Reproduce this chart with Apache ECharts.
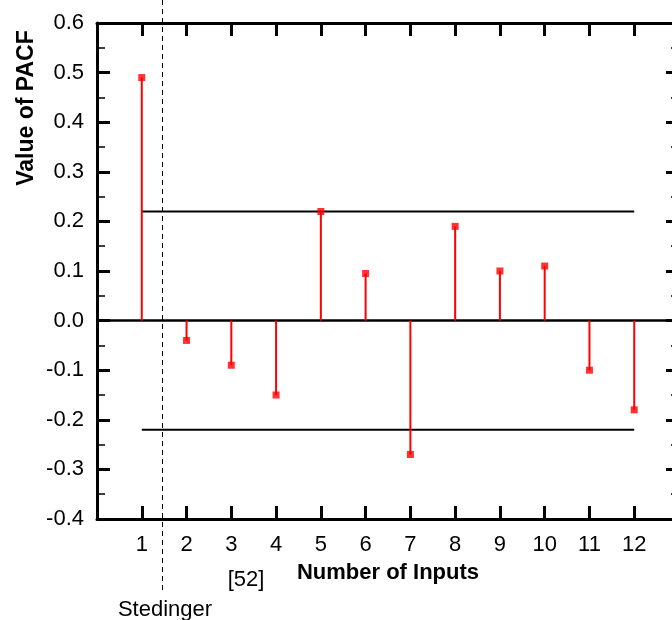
<!DOCTYPE html>
<html>
<head>
<meta charset="utf-8">
<script src="https://cdn.jsdelivr.net/npm/echarts@6/dist/echarts.min.js"></script>
<style>html,body{margin:0;padding:0;background:#fff}#c{width:672px;height:620px}</style>
</head>
<body>
<div id="c"></div>
<script>
const inputs = [1, 2, 3, 4, 5, 6, 7, 8, 9, 10, 11, 12];
const pacf = [0.49, -0.04, -0.09, -0.15, 0.22, 0.095, -0.27, 0.19, 0.10, 0.11, -0.10, -0.18];
const upperBound = [[1, 0.22], [12, 0.22]];
const lowerBound = [[1, -0.22], [12, -0.22]];
const zeroLine = [[0, 0], [13, 0]];
const yTicks = { min: -0.4, max: 0.6, step: 0.1 };
const xTicks = { min: 0, max: 13, step: 1 };

const FONT = 'Liberation Sans, Arial, sans-serif';
const pts = inputs.map((x, i) => [x, pacf[i]]);

const chart = echarts.init(document.getElementById('c'), null, { renderer: 'canvas' });

const axisLine = { show: true, onZero: false, lineStyle: { color: '#000', width: 3 } };
const majorTick = { show: true, inside: true, length: 13, lineStyle: { color: '#000', width: 3 } };
const minorTick = { show: true, splitNumber: 2, length: 8, lineStyle: { color: '#000', width: 1.5 } };

chart.setOption({
  animation: false,
  backgroundColor: '#fff',
  grid: { left: 97, top: 23, width: 582, height: 496, containLabel: false, outerBoundsMode: 'none' },
  xAxis: [
    {
      type: 'value', position: 'bottom', min: xTicks.min, max: xTicks.max, interval: xTicks.step,
      axisLine: axisLine, axisTick: majorTick, splitLine: { show: false },
      axisLabel: {
        color: '#000', fontFamily: FONT, fontSize: 22, margin: 15,
        formatter: v => (v >= 1 && v <= 12) ? String(v) : ''
      }
    },
    {
      type: 'value', position: 'top', min: xTicks.min, max: xTicks.max, interval: xTicks.step,
      axisLine: axisLine, axisTick: majorTick, splitLine: { show: false },
      axisLabel: { show: false }
    }
  ],
  yAxis: [
    {
      type: 'value', position: 'left', min: yTicks.min, max: yTicks.max, interval: yTicks.step,
      axisLine: axisLine, axisTick: majorTick, minorTick: minorTick, splitLine: { show: false },
      axisLabel: { color: '#000', fontFamily: FONT, fontSize: 22, margin: 13, formatter: v => v.toFixed(1) }
    },
    {
      type: 'value', position: 'right', min: yTicks.min, max: yTicks.max, interval: yTicks.step,
      axisLine: axisLine, axisTick: majorTick, minorTick: minorTick, splitLine: { show: false },
      axisLabel: { show: false }
    }
  ],
  series: [
    {
      type: 'line', data: zeroLine, symbol: 'none', silent: true,
      lineStyle: { color: '#000', width: 2.5 }, z: 1
    },
    {
      type: 'line', data: upperBound, symbol: 'none', silent: true,
      lineStyle: { color: '#000', width: 2 }, z: 1
    },
    {
      type: 'line', data: lowerBound, symbol: 'none', silent: true,
      lineStyle: { color: '#000', width: 2 }, z: 1
    },
    {
      type: 'custom', data: pts, z: 2,
      renderItem: function (params, api) {
        const p0 = api.coord([api.value(0), 0]);
        const p1 = api.coord([api.value(0), api.value(1)]);
        return { type: 'line', shape: { x1: p0[0], y1: p0[1], x2: p1[0], y2: p1[1] },
                 style: { stroke: '#f00', lineWidth: 2 } };
      }
    },
    {
      type: 'scatter', data: pts, symbol: 'rect', symbolSize: 7, z: 3,
      itemStyle: { color: '#f00' }
    }
  ],
  graphic: [
    { type: 'line', shape: { x1: 162.5, y1: 0, x2: 162.5, y2: 593 },
      style: { stroke: '#000', lineWidth: 1, lineDash: [5, 4] }, z: 10 },
    { type: 'text', x: 27, y: 108, rotation: Math.PI / 2, z: 10,
      style: { text: 'Value of PACF', font: 'bold 23px ' + FONT, fill: '#000', align: 'center', verticalAlign: 'middle' } },
    { type: 'text', x: 388, y: 573, z: 10,
      style: { text: 'Number of Inputs', font: 'bold 22px ' + FONT, fill: '#000', align: 'center', verticalAlign: 'middle' } },
    { type: 'text', x: 246, y: 580, z: 10,
      style: { text: '[52]', font: '22px ' + FONT, fill: '#000', align: 'center', verticalAlign: 'middle' } },
    { type: 'text', x: 165, y: 610, z: 10,
      style: { text: 'Stedinger', font: '22px ' + FONT, fill: '#000', align: 'center', verticalAlign: 'middle' } }
  ]
});
</script>
</body>
</html>
